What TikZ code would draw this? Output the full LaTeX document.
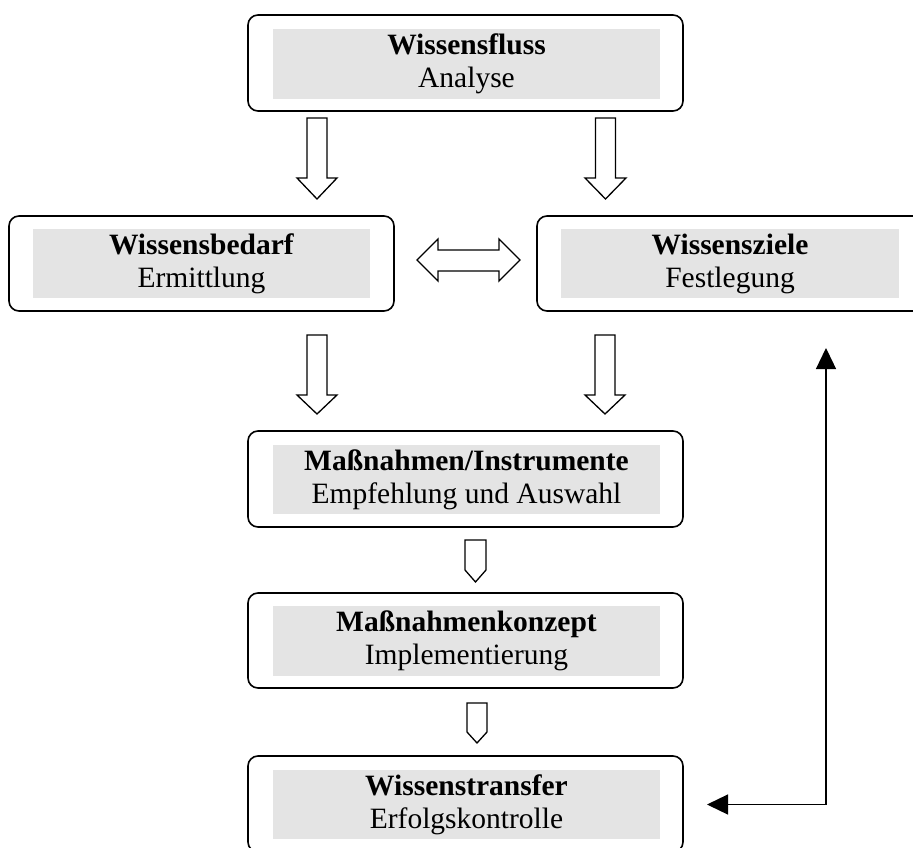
\documentclass[tikz,border=0pt]{standalone}
\usepackage{fontspec}
\setmainfont{Liberation Serif}
\usetikzlibrary{arrows.meta}
\definecolor{boxgray}{RGB}{228,228,228}
\tikzset{
  outerbox/.style={draw=black, line width=1.6pt, rounded corners=10pt, inner sep=0pt, fill=white},
  innerbox/.style={fill=boxgray, inner sep=0pt, align=center, font=\fontsize{29.5}{33}\selectfont},
  blockarrow/.style={draw=black, line width=1.3pt, fill=white, line join=miter},
  feedback/.style={line width=1.3pt, {Triangle[length=21pt,width=20pt]}-{Triangle[length=21pt,width=20pt]}},
  pics/dnarrow/.style n args={4}{code={
    % #1 shaft half width, #2 head half width, #3 head base offset, #4 tip offset
    \draw[blockarrow] (-#1,0) -- (-#1,#3) -- (-#2,#3) -- (0,#4) -- (#2,#3) -- (#1,#3) -- (#1,0) -- cycle;
  }}
}
\begin{document}
\begin{tikzpicture}[x=1pt,y=-1pt]
\useasboundingbox (0,0) rectangle (913,848);
\clip (0,0) rectangle (913,848);
\fill[white] (0,0) rectangle (913,848);

% boxes
\node[outerbox, minimum width=435pt, minimum height=96pt] (A) at (465.5,63) {};
\node[innerbox, minimum width=387pt, minimum height=70pt] (Ai) at (466.5,64) {\textbf{Wissensfluss}\\Analyse};

\node[outerbox, minimum width=385pt, minimum height=95pt] (B) at (201.5,263.5) {};
\node[innerbox, minimum width=337pt, minimum height=69pt] (Bi) at (201.5,263.5) {\textbf{Wissensbedarf}\\Ermittlung};

\node[outerbox, minimum width=386pt, minimum height=95pt] (C) at (730,263.5) {};
\node[innerbox, minimum width=338pt, minimum height=69pt] (Ci) at (730,263.5) {\textbf{Wissensziele}\\Festlegung};

\node[outerbox, minimum width=435pt, minimum height=96pt] (D) at (465.5,479) {};
\node[innerbox, minimum width=387pt, minimum height=69pt] (Di) at (466.5,479.5) {\textbf{Maßnahmen/Instrumente}\\Empfehlung und Auswahl};

\node[outerbox, minimum width=435pt, minimum height=95pt] (E) at (465.5,640.5) {};
\node[innerbox, minimum width=387pt, minimum height=70pt] (Ei) at (466.5,641) {\textbf{Maßnahmenkonzept}\\Implementierung};

\node[outerbox, minimum width=435pt, minimum height=96pt] (F) at (465.5,804) {};
\node[innerbox, minimum width=387pt, minimum height=69pt] (Fi) at (466.5,804.5) {\textbf{Wissenstransfer}\\Erfolgskontrolle};

% block arrows
\pic at (317,118) {dnarrow={10}{20}{60}{81}};
\pic at (605.5,118) {dnarrow={10}{20.5}{60}{81}};
\pic at (317,335) {dnarrow={10}{20}{60}{79}};
\pic at (605,335) {dnarrow={10}{20}{60}{79}};
\pic at (475.5,540) {dnarrow={10.5}{10.5}{30}{42}};
\pic at (477,703) {dnarrow={10}{10}{29}{40}};

% double block arrow between B and C
\draw[blockarrow] (417,260) -- (438,239) -- (438,250) -- (499,250) -- (499,239) -- (520,260)
  -- (499,281) -- (499,271) -- (438,271) -- (438,281) -- cycle;

% feedback connector
\coordinate (fbTop) at (826,348);
\coordinate (fbCorner) at (826,804.5);
\coordinate (fbEnd) at (707,804.5);
\draw[feedback] (fbTop) -- (fbCorner) -- (fbEnd);
\end{tikzpicture}
\end{document}
